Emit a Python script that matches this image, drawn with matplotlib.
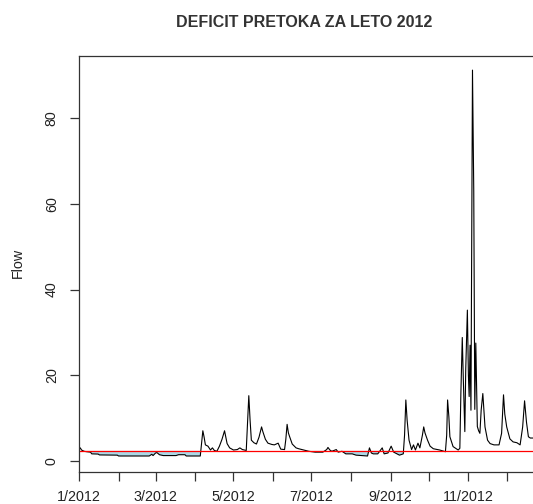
import numpy as np
import pandas as pd
import matplotlib
matplotlib.use("Agg")
import matplotlib.pyplot as plt
import matplotlib.dates as mdates

# ---- data (day offset from 2012-01-01, daily flow) ----
day = [0, 1, 2, 4, 6, 9, 10, 15, 16, 30, 31, 45, 55, 57, 58, 60, 61, 63, 66, 76,
       78, 83, 84, 95,
       96, 97, 98, 99, 101, 103, 104.5, 106, 108, 110, 112, 114, 115, 116, 118,
       121, 124, 126, 128, 131, 132, 133, 134, 135, 137, 139, 141, 143, 144, 146,
       148, 151, 153, 156, 158, 161, 162, 163, 164, 165, 167, 170, 172, 176, 180,
       185, 191, 194, 195, 196.5, 198, 201.5, 203, 206, 209, 214, 217, 226, 227.5,
       229, 230.5, 234, 237.5, 239, 242, 244.5, 246.5, 251, 254, 255, 256, 257,
       258.5, 260.5, 262, 263.5, 265.5, 267, 269, 270, 271, 273, 275, 277.5,
       282.5, 287, 288, 288.7, 289.7, 290.5, 293, 297, 298.3, 299.1, 300.2, 301,
       302.2, 302.9, 304.2, 305, 305.6, 306.3, 307, 308.2, 309.2, 310, 310.8, 312,
       313, 314, 315, 316.3, 317, 318, 320, 322, 325, 329, 331, 332.5, 333.5, 335,
       337.5, 340, 343, 345.5, 347.5, 349, 350.5, 352, 353.5, 357, 365]
flow = [2.6, 3.0, 2.5, 2.2, 2.1, 2.0, 1.6, 1.55, 1.35, 1.3, 1.1, 1.1, 1.1, 1.5,
        1.2, 1.8, 1.9, 1.4, 1.2, 1.2, 1.4, 1.4, 1.1, 1.1,
        4.0, 7.0, 5.5, 3.7, 3.4, 2.5, 3.0, 2.4, 2.2, 3.4, 5.0, 7.0, 5.5, 4.0, 3.0,
        2.5, 2.6, 3.0, 2.6, 2.4, 9.0, 15.2, 9.5, 4.8, 4.2, 3.9, 5.5, 7.9, 6.8, 5.0,
        4.1, 3.8, 3.7, 4.1, 2.7, 2.6, 5.0, 8.5, 6.5, 5.6, 3.9, 3.0, 2.8, 2.5, 2.2,
        2.0, 2.0, 2.6, 3.1, 2.5, 2.2, 2.6, 2.0, 2.2, 1.6, 1.6, 1.3, 1.1, 3.0,
        1.8, 1.6, 1.6, 3.0, 1.6, 1.8, 3.4, 2.0, 1.3, 1.6, 6.0, 14.2, 9.5,
        4.8, 2.6, 3.7, 2.5, 4.1, 3.0, 6.0, 7.9, 6.5, 4.8, 3.4, 2.8,
        2.5, 2.1, 6.0, 14.2, 10.3, 5.6, 3.3, 2.5, 2.9, 15.7, 28.8, 19.3,
        6.8, 21.2, 35.2, 20.0, 15.0, 27.0, 11.8, 91.3, 63.0, 12.0, 27.5, 8.0,
        7.0, 6.4, 11.8, 15.7, 12.6, 7.9, 4.8, 4.0, 3.7, 3.7, 6.4, 15.4, 10.9, 7.9,
        5.1, 4.4, 4.2, 3.7, 7.9, 14.0, 9.0, 5.6, 5.3, 5.3, 5.2]
threshold = 2.3
title = "DEFICIT PRETOKA ZA LETO 2012"
ylabel = "Flow"
yticks = [0, 20, 40, 60, 80]

# ---- build ----
start = pd.Timestamp("2012-01-01")
dates = start + pd.to_timedelta(np.array(day), unit="D")
flow_arr = np.array(flow)

W, H = 533, 504
fig = plt.figure(figsize=(W / 100, H / 100), dpi=100)
plt.rcParams["font.family"] = ["Liberation Sans", "DejaVu Sans"]

left, right, top, bottom = 79, 545, 56, 471.7
ax = fig.add_axes([left / W, 1 - bottom / H, (right - left) / W, (bottom - top) / H])

ax.fill_between(dates, flow_arr, threshold, where=flow_arr < threshold,
                interpolate=True, color="#ADD8E6", linewidth=0)
ax.plot(dates, flow_arr, color="black", linewidth=0.8)
ax.axhline(threshold, color="red", linewidth=0.9)

ax.set_xlim(pd.Timestamp("2012-01-01"), pd.Timestamp("2012-12-31"))
ax.set_ylim(-2.57, 94.6)

months = pd.date_range("2012-01-01", "2012-12-01", freq="MS")
ax.set_xticks(months)
ax.set_xticklabels([f"{m.month}/{m.year}" if m.month % 2 == 1 else "" for m in months])
ax.set_yticks(yticks)
ax.set_yticklabels([str(v) for v in yticks], rotation=90, va="center")

axis_col = "#333333"
for s in ax.spines.values():
    s.set_color(axis_col)
    s.set_linewidth(0.9)
ax.tick_params(axis="both", direction="out", length=6.5, width=0.9,
               color=axis_col, labelsize=10.3, labelcolor="#222222")
ax.tick_params(axis="x", pad=6.5)
ax.tick_params(axis="y", pad=8)

fig.text(18 / W, 1 - 263 / H, ylabel, rotation=90, ha="center", va="center",
         fontsize=10.3, color="#222222")
fig.text(304.5 / W, 1 - 22.7 / H, title, ha="center", va="center",
         fontsize=11.5, fontweight="bold", color="#333333")

fig.savefig("out.png", dpi=100)
